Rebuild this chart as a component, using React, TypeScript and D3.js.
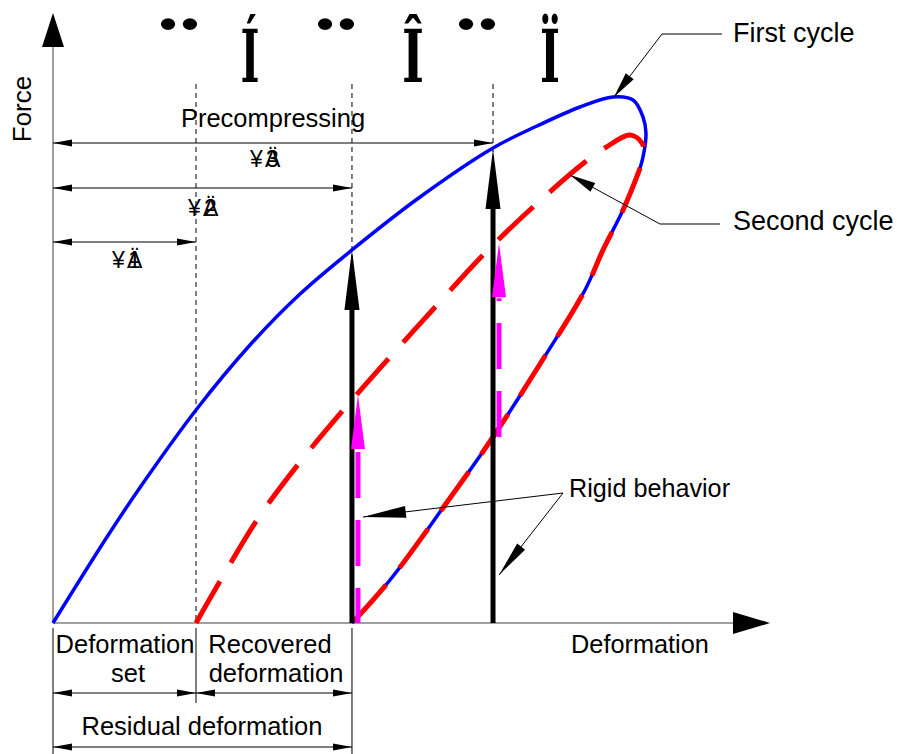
import React from "react";
import * as d3 from "d3";

// ---- data (deformation, force) in chart units ----
const firstCycleX = [0, 7.71, 12.43, 20.43, 28.14, 35.29, 42.71, 52.43, 62.86, 69.14, 75.29, 80, 82.86, 84.29, 84.71, 84.29, 83.43, 81.43, 78.57, 76, 69.57, 62.86, 56, 48.14, 42.71];
const firstCycleY = [0, 14.33, 22.58, 35.5, 46.33, 54.83, 62.17, 71, 79.17, 82.83, 86, 87.67, 87.17, 84.33, 81.67, 77.67, 74.33, 68.83, 62.17, 55.5, 43.17, 31, 19.67, 7.17, 0];
const secondCycleX = [20.43, 24.29, 29.43, 35.29, 41.71, 48.14, 54.86, 61.43, 68.57, 76, 78.86, 82.43, 84.14, 84.43, 83.86, 81.43, 78.57, 76, 69.57, 62.86, 56, 48.14, 42.71];
const secondCycleY = [0, 7.83, 17.67, 26.83, 35.83, 44.33, 53, 61.33, 69.33, 76.83, 79.17, 81.33, 80, 77.83, 75.83, 68.83, 62.17, 55.5, 43.17, 31, 19.67, 7.17, 0];
// deformation marks: set, residual, precompressing
const markX = [20.43, 42.71, 62.86];
// rigid arrows (black): x, force reached
const rigidX = [42.71, 62.86];
const rigidTop = [62.17, 79];
// magenta rigid arrows (second cycle): x, from, to
const magentaX = [42.71, 62.86];
const magentaFrom = [0, 31];
const magentaTo = [38, 63.3];
const topGlyphs = ["¨", "Í", "¨", "Î", "¨", "Ï"];
const dimDigits = ["1", "2", "3"];

const W = 897, H = 754;
const x = d3.scaleLinear().domain([0, 100]).range([53, 753]);
const y = d3.scaleLinear().domain([0, 100]).range([623, 23]);

type P = [number, number];
const head = (tip: P, from: P, len: number, hw: number) => {
  const dx = from[0] - tip[0], dy = from[1] - tip[1];
  const d = Math.hypot(dx, dy);
  const ux = dx / d, uy = dy / d;
  const bx = tip[0] + ux * len, by = tip[1] + uy * len;
  const px = -uy * hw, py = ux * hw;
  return `${tip[0]},${tip[1]} ${bx + px},${by + py} ${bx - px},${by - py}`;
};

const line = d3.line<[number, number]>().x(d => x(d[0])).y(d => y(d[1])).curve(d3.curveCatmullRom.alpha(0.5));

const FONT = "'Liberation Sans', Arial, sans-serif";

function Dim({ x1, x2, yy }: { x1: number; x2: number; yy: number }) {
  return (
    <g>
      <line x1={x1} x2={x2} y1={yy} y2={yy} stroke="#000" strokeWidth={1} />
      <polygon points={head([x1, yy], [x2, yy], 19, 3.5)} fill="#000" />
      <polygon points={head([x2, yy], [x1, yy], 19, 3.5)} fill="#000" />
    </g>
  );
}

export default function App() {
  const first = firstCycleX.map((v, i) => [v, firstCycleY[i]] as [number, number]);
  const second = secondCycleX.map((v, i) => [v, secondCycleY[i]] as [number, number]);
  const x0 = x(0), y0 = y(0);
  const glyphX = [179, 250, 336, 413, 477, 550];
  const glyphLen = [50, 19, 50, 22, 50, 20];
  const dimY = [242, 188, 143];
  const labX = [112, 188, 250];
  const labY = [268, 216, 167];
  return (
    <svg width={W} height={H} style={{ position: "absolute", left: 0, top: 0 }}>
      <rect width={W} height={H} fill="#fff" />
      {/* top glyphs */}
      {topGlyphs.map((g, i) => (
        <text key={i} x={glyphX[i]} y={g === "¨" ? 83 : 82} textAnchor="middle" fontFamily="'DejaVu Serif', serif" fontWeight="bold" fontSize={g === "¨" ? 82 : 73} textLength={glyphLen[i]} lengthAdjust="spacingAndGlyphs">{g}</text>
      ))}
      {/* dashed guides */}
      {markX.map((m, i) => (
        <line key={i} x1={x(m)} x2={x(m)} y1={84} y2={y0} stroke="#000" strokeWidth={1} strokeDasharray="5 4" />
      ))}
      {/* axes */}
      <line x1={x0} x2={x0} y1={45} y2={y0} stroke="#808080" strokeWidth={1.5} />
      <polygon points={head([x0, 13], [x0, 100], 34, 11)} fill="#000" />
      <line x1={x0} x2={735} y1={y0} y2={y0} stroke="#808080" strokeWidth={1.5} />
      <polygon points={head([770, y0], [600, y0], 37, 11)} fill="#000" />
      <text transform={`translate(31,109) rotate(-90)`} textAnchor="middle" fontFamily={FONT} fontSize={26}>Force</text>
      <text x={640} y={653} textAnchor="middle" fontFamily={FONT} fontSize={25.3}>Deformation</text>
      {/* top dimensions */}
      <text x={273} y={127} textAnchor="middle" fontFamily={FONT} fontSize={25.5}>Precompressing</text>
      {markX.map((m, i) => (
        <g key={i}>
          <Dim x1={x0} x2={x(m)} yy={dimY[i]} />
          <text x={labX[i]} y={labY[i]} fontFamily={FONT} fontSize={23}>¥</text>
          <text x={labX[i] + 15} y={labY[i]} fontFamily={FONT} fontSize={23}>Ä</text>
          <text x={labX[i] + 16} y={labY[i]} fontFamily={FONT} fontSize={23}>{dimDigits[i]}</text>
        </g>
      ))}
      {/* curves */}
      <path d={line(first) || ""} fill="none" stroke="#0000ff" strokeWidth={3.5} />
      <path d={line(second) || ""} fill="none" stroke="#ff0000" strokeWidth={5} strokeDasharray="48 22" />
      {/* black rigid arrows */}
      {rigidX.map((r, i) => (
        <g key={i}>
          <line x1={x(r)} x2={x(r)} y1={y0} y2={y(rigidTop[i]) + 55} stroke="#000" strokeWidth={5} />
          <polygon points={head([x(r), y(rigidTop[i])], [x(r), y0], 60, 7.5)} fill="#000" />
        </g>
      ))}
      {/* magenta arrows */}
      {magentaX.map((m, i) => (
        <g key={i}>
          <line x1={x(m) + 6} x2={x(m) + 6} y1={y(magentaFrom[i])} y2={y(magentaTo[i]) + 55} stroke="#ff00ff" strokeWidth={5} strokeDasharray="46 22" strokeDashoffset={i === 0 ? 11 : 0} />
          <polygon points={head([x(m) + 6, y(magentaTo[i])], [x(m) + 6, y0], 54, 7)} fill="#ff00ff" />
        </g>
      ))}
      {/* annotations */}
      <polyline points="722,34 662,34 614,97" fill="none" stroke="#000" strokeWidth={1} />
      <polygon points={head([614, 97], [662, 34], 26, 5)} fill="#000" />
      <text x={733} y={42} fontFamily={FONT} fontSize={27}>First cycle</text>
      <polyline points="720,224 660,224 570,175" fill="none" stroke="#000" strokeWidth={1} />
      <polygon points={head([570, 175], [660, 224], 26, 5)} fill="#000" />
      <text x={733} y={230} fontFamily={FONT} fontSize={27}>Second cycle</text>
      <line x1={563} y1={493} x2={363} y2={517} stroke="#000" strokeWidth={1} />
      <polygon points={head([363, 517], [563, 493], 43, 6)} fill="#000" />
      <line x1={563} y1={493} x2={499} y2={575} stroke="#000" strokeWidth={1} />
      <polygon points={head([499, 575], [563, 493], 36, 5)} fill="#000" />
      <text x={569} y={497} fontFamily={FONT} fontSize={25.2}>Rigid behavior</text>
      {/* bottom dimensions */}
      <line x1={x0} x2={x0} y1={628} y2={H} stroke="#000" strokeWidth={1} />
      <line x1={x(markX[0])} x2={x(markX[0])} y1={628} y2={703} stroke="#000" strokeWidth={1} />
      <line x1={x(markX[1])} x2={x(markX[1])} y1={628} y2={H} stroke="#000" strokeWidth={1} />
      <text x={125} y={653} textAnchor="middle" fontFamily={FONT} fontSize={25.5}>Deformation</text>
      <text x={128} y={682} textAnchor="middle" fontFamily={FONT} fontSize={25.5}>set</text>
      <text x={270} y={653} textAnchor="middle" fontFamily={FONT} fontSize={25.5}>Recovered</text>
      <text x={276} y={682} textAnchor="middle" fontFamily={FONT} fontSize={25.5}>deformation</text>
      <Dim x1={x0} x2={x(markX[0])} yy={693} />
      <Dim x1={x(markX[0])} x2={x(markX[1])} yy={693} />
      <text x={202} y={735} textAnchor="middle" fontFamily={FONT} fontSize={25.5}>Residual deformation</text>
      <Dim x1={x0} x2={x(markX[1])} yy={747} />
    </svg>
  );
}
